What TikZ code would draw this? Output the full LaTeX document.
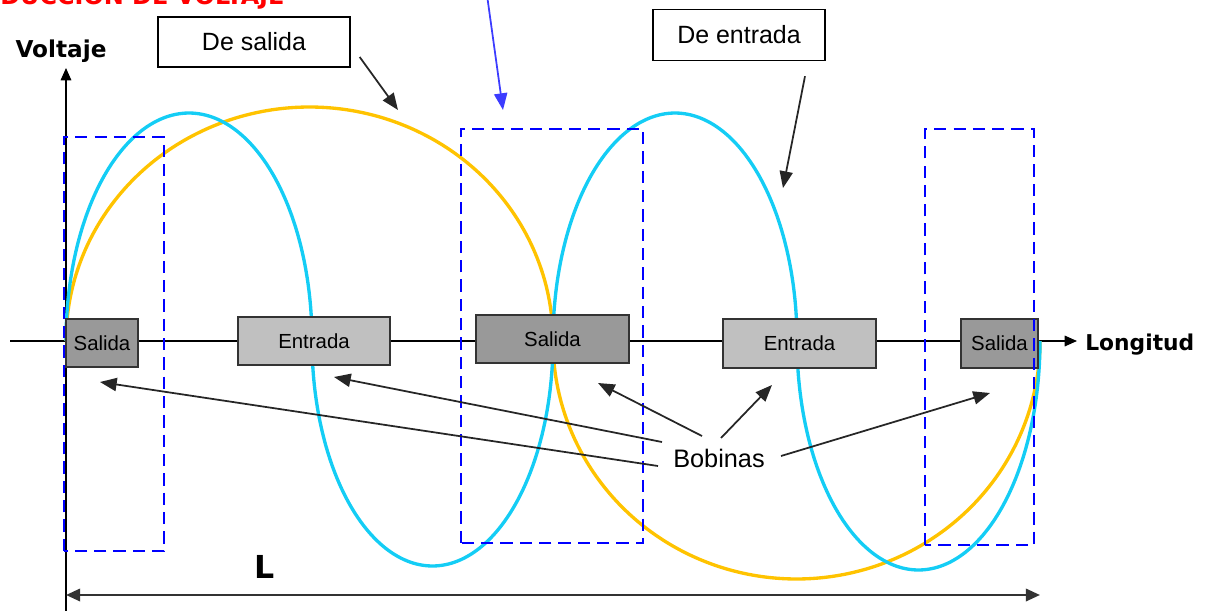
\documentclass[tikz,border=0pt]{standalone}
\usepackage{fontspec}
\setmainfont{Liberation Sans}
\newfontfamily\headfont{DejaVu Sans}
\usetikzlibrary{arrows.meta,calc}
\definecolor{cyancurve}{RGB}{20,205,245}
\definecolor{goldcurve}{RGB}{255,195,0}
\definecolor{coilblue}{RGB}{0,0,255}
\definecolor{markblue}{RGB}{60,60,255}
\definecolor{salgray}{RGB}{153,153,153}
\definecolor{entgray}{RGB}{192,192,192}
\begin{document}
\begin{tikzpicture}[x=0.02cm,y=0.02cm,
        coil/.style={draw=black!80,line width=0.9pt,minimum height=0.97cm,inner sep=0pt,font=\fontsize{11.6}{13}\selectfont},
        salbox/.style={coil,fill=salgray},
        entbox/.style={coil,fill=entgray},
        callout/.style={draw,line width=0.8pt,minimum height=1cm,font=\fontsize{14.2}{16}\selectfont},
        axislabel/.style={font=\headfont\bfseries\fontsize{13.2}{16}\selectfont,inner sep=0pt},
        pointer/.style={line width=1pt,black!85,-{Triangle[length=9.5pt,width=7.5pt]}},
        wave/.style={line width=1.9pt},
        zone/.style={coilblue,line width=1.4pt,dash pattern=on 7pt off 4pt}]
    \useasboundingbox (0,0) rectangle (1208,610);

    \node[anchor=base west,inner sep=0pt,text=red,font=\headfont\bfseries\fontsize{13.6}{16}\selectfont] (title) at (0,605) {DUCCIÓN DE VOLTAJE};

    \coordinate (hstart) at (10,269);
    \coordinate (htip) at (1077,269);
    \coordinate (vstart) at (66,-5);
    \coordinate (vtip) at (66,542);
    \draw[line width=0.9pt,-{Triangle[length=7pt,width=6pt]}] (hstart) -- (htip);
    \draw[line width=0.9pt,-{Triangle[length=7pt,width=6pt]}] (vstart) -- (vtip);
    \node[axislabel,anchor=base] (volt) at (61,553) {Voltaje};
    \node[axislabel,anchor=base west,font=\headfont\bfseries\fontsize{12.4}{15}\selectfont] (lon) at (1085,260) {Longitud};

    \draw[wave,goldcurve] plot[domain=180:0,samples=80,smooth] ({309.5+243.5*cos(\x)},{269+234*sin(\x)})
        -- plot[domain=180:360,samples=80,smooth] ({796.5+243.5*cos(\x)},{269+238*sin(\x)});
    \draw[wave,cyancurve] plot[domain=180:0,samples=60,smooth] ({189+123*cos(\x)},{269+228*sin(\x)})
        -- plot[domain=180:360,samples=60,smooth] ({432.5+120.5*cos(\x)},{269+225*sin(\x)})
        -- plot[domain=180:0,samples=60,smooth] ({675+122*cos(\x)},{269+228*sin(\x)})
        -- plot[domain=180:360,samples=60,smooth] ({918.5+121.5*cos(\x)},{269+229*sin(\x)});

    \node[salbox,minimum width=1.44cm] (sal1) at (102,267) {Salida};
    \node[entbox,minimum width=3.04cm,minimum height=0.96cm] (ent1) at (314,269) {Entrada};
    \node[salbox,minimum width=3.06cm,minimum height=0.96cm] (sal2) at (552.5,271) {Salida};
    \node[entbox,minimum width=3.06cm] (ent2) at (799.5,266.5) {Entrada};
    \node[salbox,minimum width=1.54cm] (sal3) at (999.5,266.5) {Salida};

    \draw[zone] (64,59) rectangle (164,473);
    \draw[zone] (461,67) rectangle (643,481);
    \draw[zone] (925,65) rectangle (1034,481);

    \node[callout,minimum width=3.84cm] (dsal) at (254,568) {De salida};
    \node[callout,minimum width=3.44cm,minimum height=1.02cm] (dent) at (739,575) {De entrada};
    \coordinate (dsaltip) at (398,500);
    \coordinate (denttip) at (783,422);
    \draw[pointer] ($(dsal.east)+(9,-15)$) -- (dsaltip);
    \draw[pointer] ($(dent.south)+(66,-15)$) -- (denttip);

    \coordinate (mstart) at (487,615);
    \coordinate (mtip) at (503,500);
    \draw[markblue,line width=1pt,-{Triangle[length=9.5pt,width=7.5pt]}] (mstart) -- (mtip);

    \node[font=\fontsize{14.4}{16}\selectfont,inner sep=0pt] (bob) at (719,152) {Bobinas};
    \coordinate (t1) at (100,228);
    \coordinate (t2) at (334,233);
    \coordinate (t3) at (598,227);
    \coordinate (t4) at (772,225);
    \coordinate (t5) at (990,217);
    \draw[pointer] ($(bob)+(-61,-8)$) -- (t1);
    \draw[pointer] ($(bob)+(-57,16)$) -- (t2);
    \draw[pointer] ($(bob)+(-17,22)$) -- (t3);
    \draw[pointer] ($(bob)+(2,20)$) -- (t4);
    \draw[pointer] ($(bob)+(62,2)$) -- (t5);

    \coordinate (lleft) at (66,15);
    \coordinate (lright) at (1040,15);
    \draw[line width=1.4pt,black!80,{Triangle[length=8pt,width=7pt]}-{Triangle[length=8pt,width=7pt]}] (lleft) -- (lright);
    \node[anchor=base west,inner sep=0pt,font=\headfont\bfseries\fontsize{18}{20}\selectfont] (len) at (254,32) {L};
\end{tikzpicture}
\end{document}
